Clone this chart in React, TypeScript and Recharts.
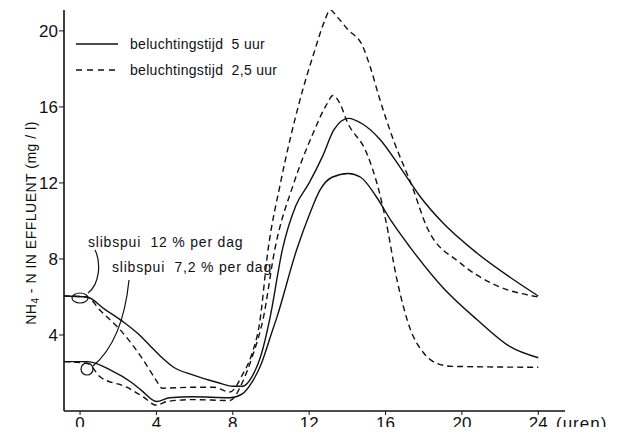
import { Line, LineChart, XAxis, YAxis } from "recharts";

// slibspui 12 % per dag, beluchtingstijd 5 uur
const hoursHigh5 = [-0.84, 0.35, 1.3, 2.25, 3.0, 3.7, 4.3, 4.9, 5.9, 7.2, 8.0, 8.5, 9.0, 9.5, 9.95, 10.6, 11.3, 12.0, 12.7, 13.3, 14.05, 14.8, 15.7, 16.75, 17.8, 19.0, 20.8, 22.5, 24.0];
const valuesHigh5 = [6.05, 6.0, 5.35, 4.7, 4.1, 3.4, 2.8, 2.3, 1.9, 1.5, 1.3, 1.3, 1.8, 3.0, 4.9, 8.5, 10.8, 12.0, 13.4, 14.8, 15.4, 15.1, 14.3, 12.85, 11.3, 9.9, 8.3, 7.05, 6.05];

// slibspui 12 % per dag, beluchtingstijd 2,5 uur
const hoursHigh25 = [-0.84, 0.35, 1.05, 2.25, 3.3, 4.0, 4.3, 5.9, 7.0, 7.85, 8.5, 9.0, 9.4, 9.85, 10.5, 11.5, 12.3, 12.8, 13.1, 13.5, 14.0, 14.8, 15.2, 15.7, 16.4, 17.4, 18.2, 19.9, 21.6, 24.0];
const valuesHigh25 = [6.05, 6.0, 5.3, 4.1, 2.7, 1.6, 1.2, 1.25, 1.25, 1.0, 1.9, 3.0, 4.6, 8.5, 12.0, 16.3, 19.0, 20.5, 21.1, 20.7, 20.1, 19.2, 18.1, 16.4, 14.3, 11.8, 9.6, 7.8, 6.7, 6.0];

// slibspui 7,2 % per dag, beluchtingstijd 5 uur
const hoursLow5 = [-0.84, 0.4, 1.6, 2.7, 3.2, 4.0, 4.7, 5.9, 7.85, 8.5, 9.0, 9.5, 10.0, 10.3, 11.35, 12.0, 12.55, 13.2, 14.05, 14.7, 15.5, 16.3, 17.3, 19.0, 20.8, 22.5, 24.0];
const valuesLow5 = [2.6, 2.6, 2.15, 1.5, 1.1, 0.5, 0.7, 0.75, 0.7, 0.9, 1.5, 2.5, 4.0, 4.9, 8.5, 10.3, 11.6, 12.3, 12.5, 12.3, 11.3, 10.0, 8.6, 6.5, 4.8, 3.4, 2.8];

// slibspui 7,2 % per dag, beluchtingstijd 2,5 uur
const hoursLow25 = [-0.84, 0.4, 1.05, 2.45, 3.3, 4.0, 4.55, 5.9, 7.85, 8.5, 9.0, 9.6, 10.2, 11.2, 12.2, 12.9, 13.25, 13.6, 14.0, 15.0, 15.6, 16.0, 16.6, 17.3, 18.0, 18.7, 19.5, 24.0];
const valuesLow25 = [2.6, 2.5, 1.8, 1.25, 0.75, 0.3, 0.5, 0.6, 0.55, 1.5, 2.8, 4.9, 8.5, 12.0, 14.6, 16.1, 16.6, 16.2, 15.2, 13.6, 11.8, 10.1, 6.9, 4.3, 3.05, 2.5, 2.35, 2.3];

const xTicks = [0, 4, 8, 12, 16, 20, 24];
const yTicks = [4, 8, 12, 16, 20];

const INK = "#111";
const FONT = "'Liberation Sans', Arial, sans-serif";

function zip(hours: number[], values: number[]) {
  return hours.map((h, i) => ({ h, v: values[i] }));
}

const series = [
  { key: "high5", data: zip(hoursHigh5, valuesHigh5), dashed: false },
  { key: "high25", data: zip(hoursHigh25, valuesHigh25), dashed: true },
  { key: "low5", data: zip(hoursLow5, valuesLow5), dashed: false },
  { key: "low25", data: zip(hoursLow25, valuesLow25), dashed: true },
];

const legendRows = [
  { label: "beluchtingstijd  5 uur", dash: undefined },
  { label: "beluchtingstijd  2,5 uur", dash: "6 5" },
];

export default function App() {
  return (
    <div style={{ position: "relative", width: 622, height: 435, margin: -8, background: "#fff", fontFamily: FONT }}>
      <LineChart width={622} height={435} margin={{ top: 10, right: 57, bottom: 0, left: 24 }}>
        <XAxis
          type="number"
          dataKey="h"
          domain={[-0.84, 25.4]}
          ticks={xTicks}
          allowDataOverflow
          height={24}
          axisLine={{ stroke: INK, strokeWidth: 1.6 }}
          tickLine={{ stroke: INK }}
          tickSize={4}
          tickMargin={2}
          tick={{ fontSize: 17, fill: INK, fontFamily: FONT }}
        />
        <YAxis
          type="number"
          dataKey="v"
          domain={[0, 21.1]}
          ticks={yTicks}
          allowDataOverflow
          width={40}
          axisLine={{ stroke: INK, strokeWidth: 1.6 }}
          tickLine={{ stroke: INK }}
          tickSize={5}
          tickMargin={1}
          tick={{ fontSize: 17, fill: INK, fontFamily: FONT }}
        />
        {series.map((s) => (
          <Line
            key={s.key}
            data={s.data}
            dataKey="v"
            type="monotone"
            stroke={INK}
            strokeWidth={1.4}
            strokeDasharray={s.dashed ? "6 4" : undefined}
            dot={false}
            activeDot={false}
            isAnimationActive={false}
          />
        ))}
      </LineChart>
      <div style={{ position: "absolute", left: 76, top: 31 }}>
        {legendRows.map((row) => (
          <div key={row.label} style={{ display: "flex", alignItems: "center", height: 26 }}>
            <svg width={50} height={6}>
              <line x1={0} y1={3} x2={42} y2={3} stroke={INK} strokeWidth={1.3} strokeDasharray={row.dash} />
            </svg>
            <span style={{ fontSize: 14, letterSpacing: 0.3, color: INK, whiteSpace: "pre", marginLeft: 4 }}>{row.label}</span>
          </div>
        ))}
      </div>
      <svg width={622} height={435} style={{ position: "absolute", left: 0, top: 0, pointerEvents: "none" }}>
        <text transform="translate(36,223) rotate(-90)" textAnchor="middle" fontSize={14} fill={INK} fontFamily={FONT} letterSpacing={0.5}>
          NH<tspan dy={3} fontSize={10}>4</tspan>
          <tspan dy={-3}> - N  IN  EFFLUENT  (mg / l)</tspan>
        </text>
        <text x={556} y={429} fontSize={17} letterSpacing={1} fill={INK} fontFamily={FONT}>(uren)</text>
        <text x={88} y={247} fontSize={14} letterSpacing={0.8} fill={INK} fontFamily={FONT} style={{ whiteSpace: "pre" }}>slibspui  12 % per dag</text>
        <text x={112} y={272} fontSize={14} letterSpacing={0.8} fill={INK} fontFamily={FONT} style={{ whiteSpace: "pre" }}>slibspui  7,2 % per dag</text>
        <path d="M 95 250 C 101 262, 100 284, 88 293" fill="none" stroke={INK} strokeWidth={1.2} />
        <ellipse cx={80} cy={298} rx={8} ry={5} fill="none" stroke={INK} strokeWidth={1.2} />
        <path d="M 129 280 C 126 310, 118 345, 93 366" fill="none" stroke={INK} strokeWidth={1.2} />
        <ellipse cx={87} cy={369} rx={6} ry={6} fill="none" stroke={INK} strokeWidth={1.2} />
      </svg>
    </div>
  );
}
